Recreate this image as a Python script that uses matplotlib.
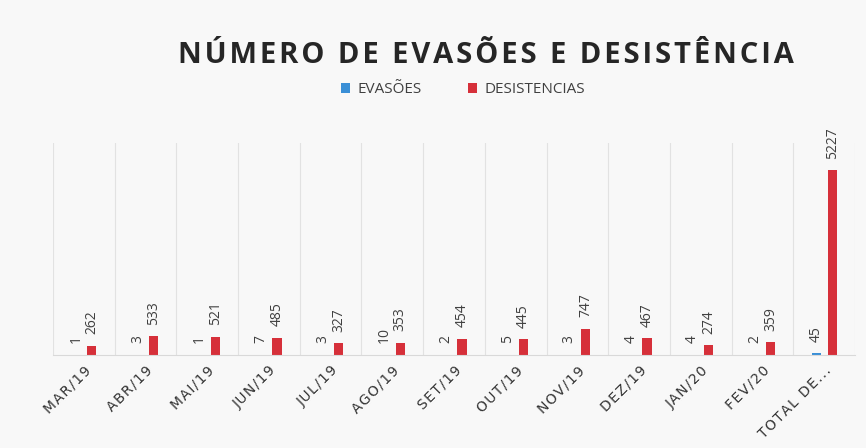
import numpy as np
import matplotlib.pyplot as plt

# Dados do gráfico
meses = ["MAR/19", "ABR/19", "MAI/19", "JUN/19", "JUL/19", "AGO/19", "SET/19",
         "OUT/19", "NOV/19", "DEZ/19", "JAN/20", "FEV/20", "TOTAL DE..."]
evasoes = [1, 3, 1, 7, 3, 10, 2, 5, 3, 4, 4, 2, 45]
desistencias = [262, 533, 521, 485, 327, 353, 454, 445, 747, 467, 274, 359, 5227]

plt.rcParams['font.family'] = ['Open Sans', 'DejaVu Sans']

bg = '#f8f8f8'
fig = plt.figure(figsize=(8.66, 4.48), dpi=100, facecolor=bg)
ax = fig.add_axes([53 / 866, 1 - 355 / 448, 802 / 866, 212 / 448], facecolor=bg)

x = np.arange(len(meses))
w = 0.15
off = 0.13
b1 = ax.bar(x - off, evasoes, w, color='#3a8fd6', label='EVASÕES')
b2 = ax.bar(x + off, desistencias, w, color='#d6303a', label='DESISTENCIAS')

for bars, vals in [(b1, evasoes), (b2, desistencias)]:
    for rect, v in zip(bars, vals):
        ax.text(rect.get_x() + rect.get_width() / 2, rect.get_height() + 330, str(v),
                rotation=90, ha='center', va='bottom', fontsize=10, color='#404040')

ax.set_xlim(-0.5, len(meses) - 0.5)
ax.set_ylim(0, 6000)
ax.set_yticks([])
ax.set_xticks(x)
# espaçamento entre letras, como no original
rotulos = ['\u200a'.join(m) for m in meses]
ax.set_xticklabels(rotulos, rotation=45, ha='right', rotation_mode='anchor',
                   fontsize=10, color='#333333', family=['DejaVu Sans'])
ax.tick_params(axis='x', length=0, pad=6)

# linhas de grade entre categorias
for xv in np.arange(-0.5, len(meses), 1.0):
    ax.axvline(xv, color='#e2e2e2', lw=0.8, zorder=0)

for s in ['top', 'right', 'left']:
    ax.spines[s].set_visible(False)
ax.spines['bottom'].set_color('#d9d9d9')

titulo = '\u200a'.join('NÚMERO DE EVASÕES E DESISTÊNCIA')
fig.text(0.561, 0.877, titulo, ha='center', va='center',
         fontsize=21, fontweight='bold', color='#262626', family=['Open Sans', 'DejaVu Sans'])
fig.legend(handles=[b1, b2], loc='center', bbox_to_anchor=(0.535, 0.8), ncol=2,
           frameon=False, fontsize=11, handlelength=0.6, handleheight=0.6,
           columnspacing=3, handletextpad=0.5, labelcolor='#404040')

plt.savefig('out.png', dpi=100, facecolor=bg)
